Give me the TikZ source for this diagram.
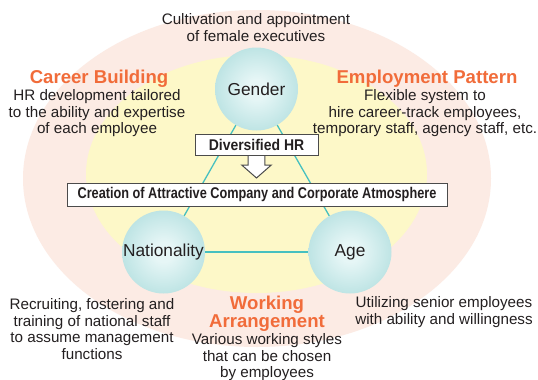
\documentclass[tikz,border=0pt]{standalone}
\usepackage{fontspec}
\setmainfont{Liberation Sans}
\newfontfamily\boxfont[FakeStretch=0.82]{Liberation Sans}
\newfontfamily\boxfontwide[FakeStretch=0.9]{Liberation Sans}
\usetikzlibrary{calc}

\definecolor{pinkbg}{RGB}{252,235,228}
\definecolor{yellowbg}{RGB}{253,248,200}
\definecolor{tealin}{RGB}{230,246,246}
\definecolor{tealout}{RGB}{138,205,205}
\definecolor{linkteal}{RGB}{70,192,192}
\definecolor{accent}{RGB}{241,108,58}
\definecolor{ink}{RGB}{35,31,32}
\definecolor{frame}{RGB}{75,75,75}

% soft teal ball for the three diversity hubs
\pgfdeclareradialshading{ballshade}{\pgfpoint{0bp}{0bp}}{%
  color(0bp)=(tealin); color(6bp)=(tealin); color(50bp)=(tealout)}

\tikzset{
  hub/.style={circle, minimum size=83pt, inner sep=0pt, shade, shading=ballshade,
    text=ink, font=\fontsize{17.3}{19}\selectfont},
  link/.style={draw=linkteal, line width=1.3pt},
  labelbox/.style={draw=frame, fill=white, line width=1pt, inner sep=0pt, text=ink},
  headline/.style={text=accent, align=center, inner sep=0pt, anchor=north,
    font=\fontsize{18.6}{18}\selectfont\bfseries},
  note/.style={text=ink, align=center, inner sep=0pt, anchor=north,
    font=\fontsize{15.2}{16.8}\selectfont},
}

\begin{document}
\begin{tikzpicture}[x=1pt, y=-1pt]
\useasboundingbox (0,0) rectangle (538,380);
\fill[white] (0,0) rectangle (538,380);

% nested background fields
\fill[pinkbg] (257,178.5) ellipse [x radius=234pt, y radius=168.5pt];
\fill[yellowbg] (256.5,174) ellipse [x radius=170.5pt, y radius=119pt];

% hubs
\node[hub] (gen) at (256.5,89) {Gender};
\node[hub] (nat) at (163.5,252) {Nationality};
\node[hub] (age) at (350,252) {Age};

% triangle of links
\draw[link] (gen) -- (nat);
\draw[link] (gen) -- (age);
\draw[link] (nat) -- (age);

% block arrow from the HR box down to the goal box
\coordinate (divbase) at (256.5,156);
\draw[frame, fill=white, line width=1pt, line join=miter]
  ($(divbase)+(-8.3,-3)$) -- ($(divbase)+(-8.3,9)$) -- ($(divbase)+(-14.8,9)$)
  -- ($(divbase)+(0,22)$) -- ($(divbase)+(14.8,9)$) -- ($(divbase)+(8.3,9)$)
  -- ($(divbase)+(8.3,-3)$) -- cycle;

\node[labelbox, anchor=south, minimum width=123pt, minimum height=21pt,
  font=\boxfontwide\bfseries\fontsize{15.5}{17}\selectfont] (div) at (divbase) {Diversified HR};
\node[labelbox, minimum width=380pt, minimum height=23pt,
  font=\boxfont\bfseries\fontsize{15.5}{17}\selectfont] (goal) at (257,194.5)
  {Creation of Attractive Company and Corporate Atmosphere};

% surrounding texts
\node[note] (gentxt) at (256,13) {Cultivation and appointment\\of female executives};

\node[headline] (career) at (99,70) {Career Building};
\node[note] (careertxt) at (97,89) {HR development tailored\\to the ability and expertise\\of each employee};

\node[headline] (employ) at (427,70) {Employment Pattern};
\node[note] (employtxt) at (425,89) {Flexible system to\\hire career-track employees,\\temporary staff, agency staff, etc.};

\node[note] (nattxt) at (92,298) {Recruiting, fostering and\\training of national staff\\to assume management\\functions};

\node[headline] (work) at (267,296) {Working\\Arrangement};
\node[note] (worktxt) at (267,333) {Various working styles\\that can be chosen\\by employees};

\node[note] (agetxt) at (444,296) {Utilizing senior employees\\with ability and willingness};
\end{tikzpicture}
\end{document}
